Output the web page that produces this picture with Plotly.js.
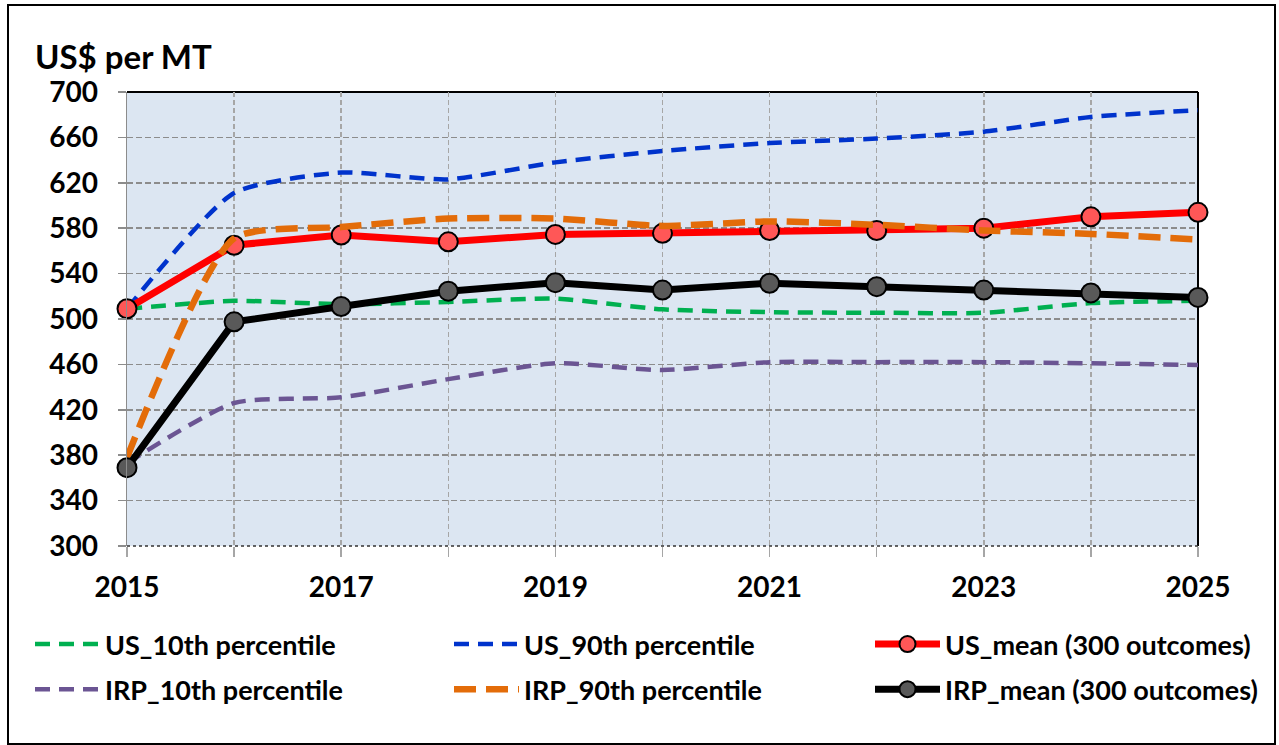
<!DOCTYPE html>
<html>
<head>
<meta charset="utf-8">
<script src="https://cdn.plot.ly/plotly-3.0.1.min.js"></script>
<style>
html,body{margin:0;padding:0;background:#fff;}
#chart{width:1279px;height:745px;}
</style>
</head>
<body>
<div id="chart"></div>
<script>
// ---- data ----
const years = [2015, 2016, 2017, 2018, 2019, 2020, 2021, 2022, 2023, 2024, 2025];
const xTickVals = [2015, 2016, 2017, 2018, 2019, 2020, 2021, 2022, 2023, 2024, 2025];
const xTickText = ["2015", "", "2017", "", "2019", "", "2021", "", "2023", "", "2025"];

const us10    = [509, 516, 513, 515, 518, 508.5, 506, 505.5, 505.5, 514, 516];
const us90    = [509, 611, 629, 623, 638, 648, 655, 659, 665, 678, 684];
const usMean  = [509, 565, 574, 568, 574.5, 575.5, 578, 578, 580, 590, 594];
const irp10   = [373, 426, 431, 447, 461, 455, 462, 462, 462, 461, 459.5];
const irp90   = [378, 571, 581, 588.5, 588.5, 582, 586, 583, 578, 575, 570];
const irpMean = [369, 497.5, 511, 524.5, 532, 525.5, 531.5, 528.5, 525.5, 523, 519];

const names = ["US_10th percentile", "US_90th percentile", "US_mean (300 outcomes)",
               "IRP_10th percentile", "IRP_90th percentile", "IRP_mean (300 outcomes)"];

const FONT = "Lato, 'Liberation Sans', Arial, sans-serif";

function pct(y, name, color, width, dash, legend, group) {
  return {
    x: years, y: y, name: name, type: 'scatter', mode: 'lines',
    line: {color: color, width: width, dash: dash, shape: 'spline', smoothing: 0.6},
    legend: legend, legendgroup: group, cliponaxis: false, hoverinfo: 'x+y+name'
  };
}
function mean(y, name, color, fill, legend, group) {
  return {
    x: years, y: y, name: name, type: 'scatter', mode: 'lines+markers',
    line: {color: color, width: 7},
    marker: {symbol: 'circle', size: 19, color: fill, line: {color: '#000000', width: 2}},
    legend: legend, legendgroup: group, cliponaxis: false
  };
}

const traces = [
  pct(us10, names[0], '#00B050', 4.5, '15px,9px', 'legend', 'a'),
  pct(us90, names[1], '#0033CC', 4.5, '15px,9px', 'legend2', 'c'),
  mean(usMean, names[2], '#FF0000', '#FF5757', 'legend3', 'e'),
  pct(irp10, names[3], '#6B5593', 4.5, '15px,9px', 'legend', 'b'),
  pct(irp90, names[4], '#E36C09', 6.5, '22px,10px', 'legend2', 'd'),
  mean(irpMean, names[5], '#000000', '#595959', 'legend3', 'f')
];

const legendFont = {family: FONT, size: 27, color: '#000', weight: 'bold'};
function leg(xpx) {
  return {
    x: xpx / 1279, xref: 'container', xanchor: 'left',
    y: 1 - 620 / 745, yref: 'container', yanchor: 'top',
    orientation: 'v', font: legendFont, bgcolor: 'rgba(0,0,0,0)',
    borderwidth: 0, itemwidth: 65, tracegroupgap: 7, traceorder: 'grouped',
    itemclick: false, itemdoubleclick: false
  };
}

const layout = {
  width: 1279, height: 745,
  margin: {l: 127, r: 81, t: 92, b: 199, autoexpand: false},
  paper_bgcolor: '#FFFFFF',
  plot_bgcolor: '#DCE6F2',
  showlegend: true,
  title: {
    text: 'US$ per MT',
    font: {family: FONT, size: 33, color: '#000', weight: 'bold'},
    xref: 'container', x: 35 / 1279, xanchor: 'left',
    yref: 'container', y: 1 - 57 / 745, yanchor: 'middle'
  },
  xaxis: {
    range: [2015, 2025], tickvals: xTickVals, ticktext: xTickText, tickangle: 0,
    showgrid: true, gridcolor: '#A6A6A6', gridwidth: 1.5, griddash: '5px,3px',
    zeroline: false, showline: false, automargin: false,
    ticks: 'outside', ticklen: 10, tickcolor: '#A6A6A6', tickwidth: 1.5,
    ticklabelstandoff: 6,
    tickfont: {family: FONT, size: 28, color: '#000', weight: 'bold'},
    fixedrange: true
  },
  yaxis: {
    range: [300, 700], dtick: 40, tick0: 300, automargin: false,
    showgrid: true, gridcolor: '#8C8C8C', gridwidth: 1.5, griddash: '6px,3px',
    zeroline: false, showline: true, linecolor: '#8C8C8C', linewidth: 1.5,
    ticks: 'outside', ticklen: 8, tickcolor: '#8C8C8C', tickwidth: 1.5,
    ticklabelstandoff: 14,
    tickfont: {family: FONT, size: 28, color: '#000', weight: 'bold'},
    fixedrange: true
  },
  shapes: [
    {type: 'line', xref: 'paper', yref: 'paper', x0: 0, x1: 1, y0: 1, y1: 1,
     line: {color: '#000', width: 2}, layer: 'below'},
    {type: 'line', xref: 'paper', yref: 'paper', x0: 1, x1: 1, y0: 0, y1: 1,
     line: {color: '#000', width: 2}, layer: 'below'},
    {type: 'line', xref: 'paper', yref: 'paper', x0: 0, x1: 1, y0: 0, y1: 0,
     line: {color: '#333', width: 1.5, dash: 'dot'}, layer: 'below'},
    {type: 'rect', xref: 'paper', yref: 'paper',
     x0: (8 - 127) / 1071, x1: (1275 - 127) / 1071,
     y0: (546 - 744) / 454, y1: (546 - 5) / 454,
     line: {color: '#000', width: 2}, fillcolor: 'rgba(0,0,0,0)', layer: 'above'}
  ],
  legend: leg(30),
  legend2: leg(449),
  legend3: leg(870)
};

Plotly.newPlot('chart', traces, layout, {displayModeBar: false, staticPlot: true});
</script>
</body>
</html>
